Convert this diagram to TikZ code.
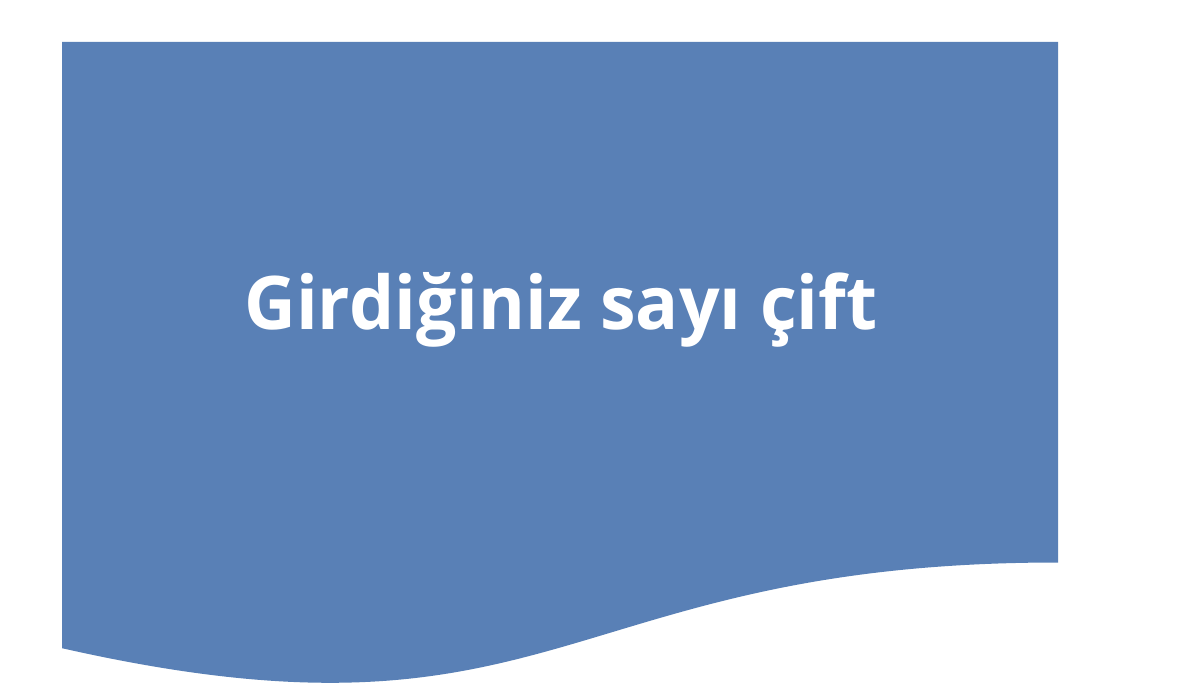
\documentclass[tikz,border=0pt]{standalone}
\usepackage{fontspec}
\setmainfont{Open Sans}
\newfontfamily\labelfont[FakeStretch=0.966]{Open Sans}
\definecolor{docblue}{RGB}{89,128,182}
\begin{document}
\begin{tikzpicture}[x=1pt,y=-1pt,
  docshape/.style={fill=docblue,draw=none},
  doctext/.style={text=white,font=\labelfont\fontsize{74}{80}\selectfont\bfseries,inner sep=0pt,anchor=base}]
\useasboundingbox (0,0) rectangle (1200,700);
\fill[white] (0,0) rectangle (1200,700);
\path[docshape] (62,42) -- (1058,42) -- (1058,562.5)
  .. controls (560,562.5) and (560,760.8) .. (62,648.2) -- cycle;
\node[doctext] (label) at (561,330) {Girdiğiniz sayı çift};
\end{tikzpicture}
\end{document}
